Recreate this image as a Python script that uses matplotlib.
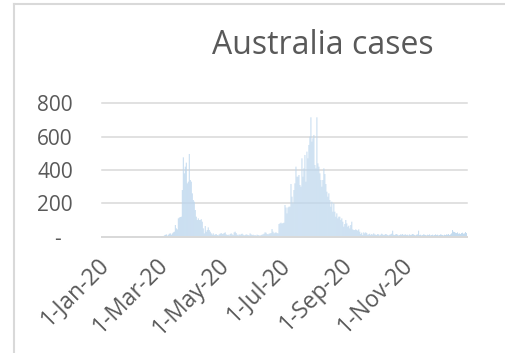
import numpy as np
import pandas as pd
import matplotlib
matplotlib.use("Agg")
import matplotlib.pyplot as plt
import matplotlib.dates as mdates
from matplotlib.transforms import ScaledTranslation
from matplotlib.lines import Line2D

# Daily new COVID-19 cases in Australia, 2020, one list per month
jan = [0, 0, 0, 0, 0, 0, 0, 0, 0, 0, 0, 0, 0, 0, 0, 0, 0, 0, 0, 0, 0, 0, 0, 0,
       1, 3, 0, 1, 0, 1, 2]
feb = [2, 0, 3, 0, 0, 1, 0, 0, 0, 0, 0, 0, 0, 0, 0, 0, 0, 0, 0, 1,
       0, 0, 0, 0, 0, 0, 0, 1, 2]
mar = [4, 2, 8, 11, 14, 6, 12, 18, 20, 12,
       20, 26, 30, 70, 50, 44, 110, 115, 118, 120,
       280, 476, 380, 420, 444, 320, 330, 496, 340, 330, 260]
apr = [220, 210, 160, 120, 100, 110, 100, 100, 105, 90,
       50, 20, 64, 30, 40, 56, 40, 30, 20, 12,
       20, 10, 14, 16, 10, 8, 14, 18, 22, 16]
may = [18, 22, 26, 14, 10, 12, 8, 16, 20, 14,
       10, 26, 30, 22, 12, 8, 14, 10, 16, 18,
       12, 8, 10, 14, 12, 10, 8, 20, 14, 10, 12]
jun = [8, 10, 6, 12, 10, 8, 6, 10, 12, 14,
       18, 26, 24, 16, 14, 18, 20, 22, 46, 30,
       20, 24, 26, 22, 20, 76, 80, 84, 78, 82]
jul = [84, 190, 175, 140, 175, 180, 180, 316, 240, 200,
       280, 320, 420, 360, 360, 370, 310, 300, 470, 360,
       410, 490, 330, 510, 470, 550, 600, 716, 570, 590, 610]
aug = [430, 410, 716, 440, 420, 380, 340, 300, 340, 410,
       376, 316, 270, 240, 260, 220, 180, 210, 150, 200,
       150, 120, 140, 110, 120, 120, 100, 110, 90, 60, 76]
sep = [100, 80, 60, 66, 50, 70, 90, 44, 40, 40,
       44, 40, 36, 44, 30, 16, 24, 10, 26, 20,
       26, 22, 12, 14, 18, 10, 16, 12, 20, 14]
oct_ = [12, 10, 16, 14, 8, 12, 18, 14, 10, 12,
        16, 14, 10, 8, 12, 14, 18, 36, 12, 10,
        14, 16, 12, 8, 10, 14, 12, 16, 10, 12, 14]
nov = [10, 12, 8, 14, 10, 12, 16, 14, 10, 8,
       12, 14, 36, 10, 12, 8, 10, 14, 12, 10,
       8, 12, 10, 14, 8, 10, 12, 8, 10, 14]
dec = [10, 12, 8, 10, 14, 12, 10, 8, 12, 10,
       14, 12, 16, 10, 14, 20, 40, 30, 28, 24,
       22, 26, 18, 20, 16, 22, 24, 18, 20, 28, 22]

daily_cases = jan + feb + mar + apr + may + jun + jul + aug + sep + oct_ + nov + dec
dates = pd.date_range("2020-01-01", periods=len(daily_cases), freq="D")

y_ticks = [0, 200, 400, 600, 800]
y_tick_labels = ["-  ", "200", "400", "600", "800"]
x_tick_dates = ["2020-01-01", "2020-03-01", "2020-05-01",
                "2020-07-01", "2020-09-01", "2020-11-01"]
x_tick_labels = ["1-Jan-20", "1-Mar-20", "1-May-20",
                 "1-Jul-20", "1-Sep-20", "1-Nov-20"]
title = "Australia cases"

plt.rcParams["font.family"] = ["Open Sans", "DejaVu Sans"]

W, H = 505, 353
TEXT = "#595959"
GRID = "#d9d9d9"

fig = plt.figure(figsize=(W / 100, H / 100), dpi=100)
ax = fig.add_axes([102 / W, 1 - 236.7 / H, 365 / W, 133.4 / H])

x = mdates.date2num(dates)
bars = ax.bar(x, daily_cases, width=0.9, color="#bdd7ee", linewidth=0, zorder=2)
for b in bars:
    b.set_snap(False)

ax.set_xlim(x[0] - 0.5, x[-1] + 0.5)
ax.set_ylim(0, 800)
ax.set_yticks(y_ticks)
ax.set_yticklabels(y_tick_labels)
ax.set_xticks(mdates.date2num(pd.to_datetime(x_tick_dates)))
ax.set_xticklabels(x_tick_labels, rotation=45, ha="right", va="center",
                   rotation_mode="anchor")
ax.tick_params(length=0, labelcolor=TEXT)
ax.tick_params(axis="y", pad=21, labelsize=15)
ax.tick_params(axis="x", pad=18, labelsize=16.5)
shift = ScaledTranslation(3 / 100, 0, fig.dpi_scale_trans)
for lbl in ax.get_xticklabels():
    lbl.set_transform(lbl.get_transform() + shift)

ax.set_axisbelow(True)
ax.yaxis.grid(True, color=GRID, linewidth=1.1)
for gl in ax.get_ygridlines():
    gl.set_clip_on(False)
for side in ("top", "right", "left"):
    ax.spines[side].set_visible(False)
ax.spines["bottom"].set_color(GRID)
ax.spines["bottom"].set_linewidth(1.4)
ax.patch.set_visible(False)

fig.text(322.5 / W, 1 - 54.3 / H, title, ha="center", va="baseline",
         fontsize=23, color=TEXT)

# chart-area frame
fig.add_artist(Line2D([14 / W, 14 / W], [0, 1 - 4 / H], transform=fig.transFigure,
                      color=GRID, linewidth=1.5))
fig.add_artist(Line2D([14 / W, 1], [1 - 4 / H, 1 - 4 / H], transform=fig.transFigure,
                      color=GRID, linewidth=1.5))

fig.savefig("out.png", dpi=100)
